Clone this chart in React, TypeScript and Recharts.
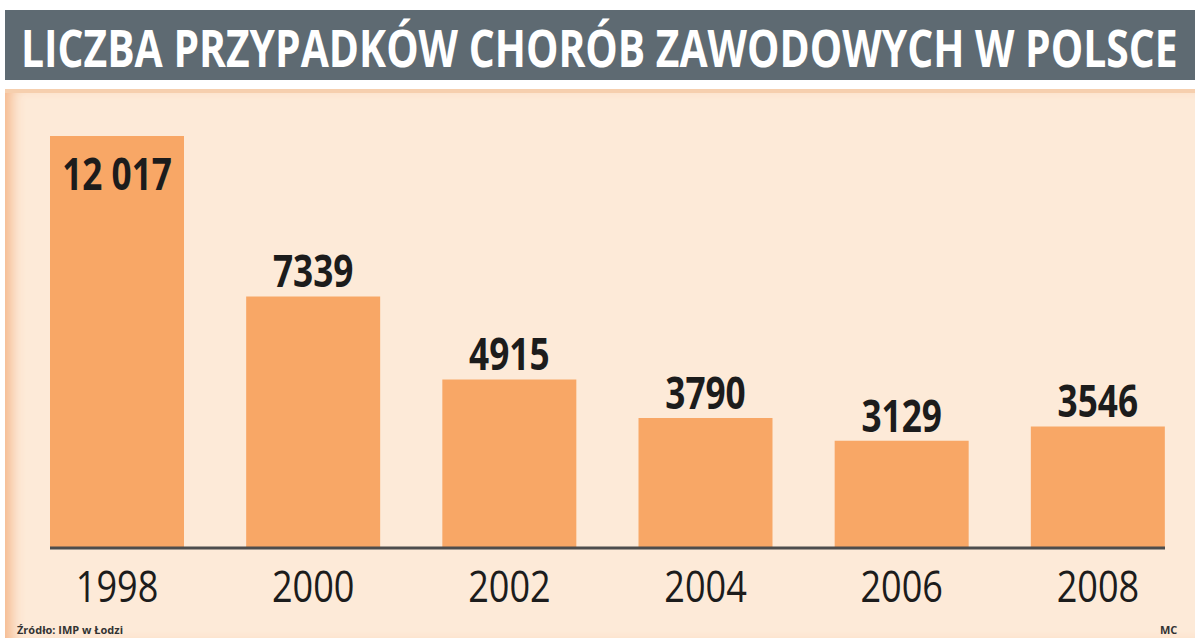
import { Bar, BarChart, LabelList, XAxis, YAxis } from "recharts"

// Liczba przypadków chorób zawodowych w Polsce
const years = ["1998", "2000", "2002", "2004", "2006", "2008"]
const cases = [12017, 7339, 4915, 3790, 3129, 3546]
const valueLabels = ["12 017", "7339", "4915", "3790", "3129", "3546"]

const data = years.map((year, i) => ({ year, cases: cases[i], label: valueLabels[i] }))

const BAR_COLOR = "#f8a766"
const TEXT_COLOR = "#1c1c1c"

const YearTick = (props: any) => {
  const { x, y, payload } = props
  return (
    <text
      x={0}
      y={0}
      transform={`translate(${x},${y + 46}) scale(0.82,1)`}
      textAnchor="middle"
      fontFamily="Open Sans"
      fontSize={44}
      fill={TEXT_COLOR}
    >
      {payload.value}
    </text>
  )
}

const ValueLabel = (props: any) => {
  const { x, y, width, value, index } = props
  const cx = x + width / 2
  const baseY = index === 0 ? y + 54 : y - 9
  return (
    <text
      x={0}
      y={0}
      transform={`translate(${cx},${baseY}) scale(0.8,1)`}
      textAnchor="middle"
      fontFamily="Open Sans"
      fontWeight={700}
      fontSize={44}
      fill={TEXT_COLOR}
    >
      {value}
    </text>
  )
}

export default function App() {
  return (
    <div
      style={{
        position: "fixed",
        left: 0,
        top: 0,
        width: 1200,
        height: 639,
        background: "#ffffff",
        overflow: "hidden",
      }}
    >
      <div
        style={{
          position: "absolute",
          left: 5,
          top: 10,
          width: 1190,
          height: 70,
          background: "#5e6a72",
        }}
      />
      <svg
        width={1200}
        height={90}
        style={{ position: "absolute", left: 0, top: 0 }}
      >
        <text
          x={0}
          y={0}
          transform="translate(21,67) scale(0.785,1)"
          fontFamily="Open Sans"
          fontWeight={700}
          fontSize={52}
          fill="#ffffff"
        >
          LICZBA PRZYPADKÓW CHORÓB ZAWODOWYCH W POLSCE
        </text>
      </svg>
      <div
        style={{
          position: "absolute",
          left: 5,
          top: 89,
          width: 1190,
          height: 545,
          background: "#fdead8",
          borderTop: "4px solid #f6cfae",
          boxShadow: "inset 14px 0 14px -8px #f4b68a",
        }}
      />
      <div style={{ position: "absolute", left: 0, top: 0 }}>
        <BarChart
          width={1200}
          height={639}
          data={data}
          margin={{ top: 136, right: 35, bottom: 31, left: 50 }}
          barCategoryGap={31}
        >
          <XAxis
            dataKey="year"
            height={60}
            padding={{ left: -31, right: -31 }}
            axisLine={{ stroke: "#4d4d4d", strokeWidth: 3 }}
            tickLine={false}
            tick={<YearTick />}
            interval={0}
          />
          <YAxis hide domain={[0, 12017]} />
          <Bar dataKey="cases" fill={BAR_COLOR} isAnimationActive={false}>
            <LabelList dataKey="label" content={<ValueLabel />} />
          </Bar>
        </BarChart>
      </div>
      <div
        style={{
          position: "absolute",
          left: 17,
          top: 622,
          fontFamily: "Open Sans",
          fontWeight: 700,
          fontSize: 11,
          color: "#333333",
        }}
      >
        Źródło: IMP w Łodzi
      </div>
      <div
        style={{
          position: "absolute",
          left: 1160,
          top: 622,
          fontFamily: "Open Sans",
          fontWeight: 700,
          fontSize: 11,
          color: "#333333",
        }}
      >
        MC
      </div>
    </div>
  )
}
